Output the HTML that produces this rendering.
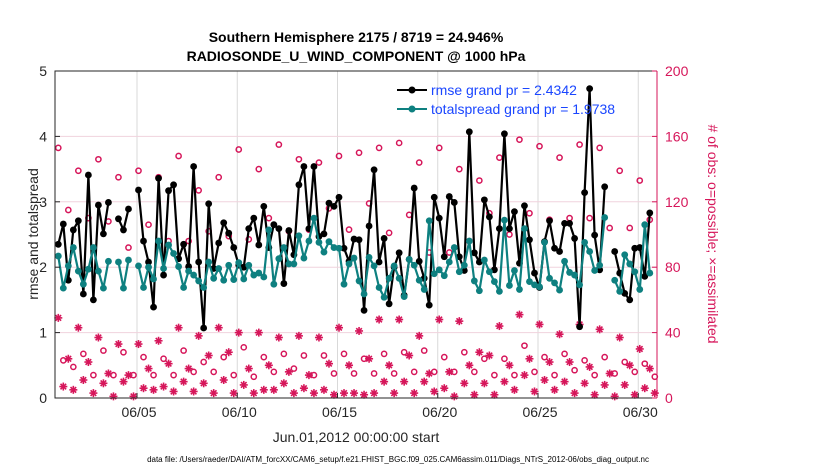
<!DOCTYPE html>
<html><head><meta charset="utf-8">
<style>
html,body{margin:0;padding:0;background:#fff;}
svg{display:block;font-family:"Liberation Sans",Arial,sans-serif;}
</style></head>
<body>
<svg id="chart" width="830" height="470" viewBox="0 0 830 470">
  <rect x="0" y="0" width="830" height="470" fill="#fff"/>
  <text x="356" y="42" text-anchor="middle" font-size="14" font-weight="bold">Southern Hemisphere 2175 / 8719 = 24.946%</text>
  <text x="356" y="61" text-anchor="middle" font-size="14" font-weight="bold">RADIOSONDE_U_WIND_COMPONENT @ 1000 hPa</text>
  <g id="grid"></g>
  <g id="obs"></g>
  <g id="lines"></g>
  <g id="axes"></g>
  <g>
    <line x1="397" y1="90" x2="427" y2="90" stroke="#000" stroke-width="2"/>
    <circle cx="412" cy="90" r="3.5" fill="#000"/>
    <text x="431" y="95" font-size="14" fill="#1a46ff">rmse grand pr = 2.4342</text>
    <line x1="397" y1="109" x2="427" y2="109" stroke="#0e8080" stroke-width="2"/>
    <circle cx="412" cy="109" r="3.5" fill="#0e8080"/>
    <text x="431" y="114" font-size="14" fill="#1a46ff">totalspread grand pr = 1.9738</text>
  </g>
  <text transform="translate(38,234) rotate(-90)" text-anchor="middle" font-size="14" fill="#262626">rmse and totalspread</text>
  <text transform="translate(708,234) rotate(90)" text-anchor="middle" font-size="14" fill="#d6165a"># of obs: o=possible; ×=assimilated</text>
  <text x="356" y="442" text-anchor="middle" font-size="14" fill="#262626">Jun.01,2012 00:00:00 start</text>
  <text x="398" y="462" text-anchor="middle" font-size="8" fill="#000">data file: /Users/raeder/DAI/ATM_forcXX/CAM6_setup/f.e21.FHIST_BGC.f09_025.CAM6assim.011/Diags_NTrS_2012-06/obs_diag_output.nc</text>
</svg>
<script>
const rmse=[2.35,2.66,1.80,2.57,2.71,1.59,3.41,1.50,2.95,2.51,2.99,null,2.74,2.57,2.89,null,3.18,2.40,2.08,1.39,3.36,1.88,3.17,3.26,2.13,2.35,2.01,3.54,2.08,1.07,2.97,1.98,2.37,2.68,2.52,2.30,2.03,2.00,2.59,2.75,2.34,2.93,2.30,2.65,2.59,1.75,2.56,2.19,3.26,3.54,2.59,3.54,2.47,2.51,2.98,2.93,3.07,2.29,2.09,2.43,2.42,1.34,2.63,3.49,2.08,2.44,1.44,2.00,2.22,1.57,2.12,3.21,2.09,1.83,1.42,3.07,2.75,2.16,3.08,2.99,2.16,1.95,4.07,2.22,2.08,3.03,2.77,1.96,2.59,4.04,2.59,2.85,2.06,2.94,2.42,1.91,1.69,2.39,2.71,2.29,2.24,2.67,2.67,2.44,1.09,3.14,4.73,2.49,1.96,3.23,null,2.24,1.91,1.60,1.50,2.29,2.30,1.86,2.83,null];
const spread=[2.17,1.68,2.02,2.30,1.94,1.74,1.97,2.30,1.94,1.68,2.09,null,2.08,1.68,2.11,null,2.02,1.69,2.00,1.82,2.40,1.98,2.34,2.21,2.01,1.69,1.94,1.88,1.79,1.69,2.08,1.83,1.98,1.80,2.03,1.81,2.07,1.82,2.03,1.88,1.91,1.85,2.57,1.74,2.13,2.30,2.05,2.05,2.48,2.14,2.40,2.75,2.38,2.23,2.39,2.30,2.29,1.74,2.05,2.14,1.79,1.59,2.15,2.02,1.69,1.54,1.83,2.02,1.83,1.55,2.12,2.03,1.80,1.66,2.71,1.90,1.96,1.87,2.08,2.30,1.93,2.03,2.40,1.79,1.64,2.11,1.93,1.78,1.63,2.72,1.72,1.95,1.66,2.59,1.78,1.73,1.70,2.38,1.83,1.76,1.65,2.09,1.92,1.88,1.73,2.38,2.24,1.95,2.03,2.76,null,1.80,1.63,2.19,2.05,1.93,1.66,2.65,1.91,null];
const possible=[153,23,115,19,139,27,110,14,146,29,108,14,135,28,92,14,139,25,106,14,135,24,96,14,148,29,96,16,127,22,102,16,135,25,99,14,152,31,97,13,140,25,110,16,155,27,102,18,146,26,103,14,144,26,116,15,148,27,103,15,150,24,119,15,153,27,101,15,156,28,112,16,144,29,89,16,153,25,89,16,140,28,96,16,133,24,113,14,147,24,100,14,158,32,113,16,154,25,109,14,147,27,110,17,155,23,110,14,153,25,104,15,139,22,104,16,133,21,109,13];
const assimilated=[49,7,24,5,43,11,22,3,37,9,15,1,33,10,14,1,33,6,18,5,35,7,21,4,43,10,18,4,38,9,26,3,43,11,28,3,40,8,18,3,40,5,20,5,37,9,16,3,38,6,14,3,37,5,21,2,43,3,20,3,41,2,24,3,48,10,20,3,48,10,26,3,38,10,15,4,48,6,16,1,47,9,20,2,28,9,26,2,44,10,20,5,51,14,24,4,45,11,22,5,39,10,22,3,45,9,19,2,42,8,15,1,37,8,20,2,30,6,18,3];
const leftTicks=[0,1,2,3,4,5];
const rightTicks=[0,40,80,120,160,200];
const xTickDays=[4,9,14,19,24,29];
const xTickLabels=["06/05","06/10","06/15","06/20","06/25","06/30"];

const NS="http://www.w3.org/2000/svg";
const L=55,R=657,T=71,B=398;
const X0=56.8,PXDAY=20.05;
function xDay(d){return X0+d*PXDAY;}
function xIdx(i){return xDay(0.075+i*0.25);}
function yL(v){return B-(v/5)*(B-T);}
function yR(v){return B-(v/200)*(B-T);}
function mk(tag,attrs,parent){const e=document.createElementNS(NS,tag);for(const k in attrs)e.setAttribute(k,attrs[k]);parent.appendChild(e);return e;}

const grid=document.getElementById('grid');
xTickDays.forEach((d)=>{
  const g=mk('line',{x1:xDay(d),x2:xDay(d),y1:T,y2:B,stroke:'#d9d9d9','stroke-width':1},grid);
  
  
});
rightTicks.forEach((v)=>{
  if(v===0||v===200)return;
  const g=mk('line',{x1:L,x2:R,y1:yR(v),y2:yR(v),stroke:'#f0d3dd','stroke-width':1},grid);
  
  
});

const obs=document.getElementById('obs');
const OBC='#d6165a';
possible.forEach((v,i)=>{
  const c=mk('circle',{cx:xIdx(i),cy:yR(v),r:2.6,fill:'none',stroke:OBC,'stroke-width':1.5},obs);
  
  
});
assimilated.forEach((v,i)=>{
  const cx=xIdx(i),cy=yR(v),s=4;
  const g=mk('g',{stroke:OBC,'stroke-width':1.6},obs);
  
  
  mk('line',{x1:cx-s,y1:cy,x2:cx+s,y2:cy},g);
  mk('line',{x1:cx,y1:cy-s,x2:cx,y2:cy+s},g);
  mk('line',{x1:cx-s*0.7,y1:cy-s*0.7,x2:cx+s*0.7,y2:cy+s*0.7},g);
  mk('line',{x1:cx-s*0.7,y1:cy+s*0.7,x2:cx+s*0.7,y2:cy-s*0.7},g);
});

const lines=document.getElementById('lines');
function drawSeries(arr,color,name){
  let d='',pen=false;
  arr.forEach((v,i)=>{
    if(v===null){pen=false;return;}
    d+=(pen?'L':'M')+xIdx(i).toFixed(1)+' '+yL(v).toFixed(1)+' ';pen=true;
  });
  const p=mk('path',{d:d,fill:'none',stroke:color,'stroke-width':2.2,'stroke-linejoin':'round'},lines);
  
  
  arr.forEach((v,i)=>{
    if(v===null)return;
    const c=mk('circle',{cx:xIdx(i),cy:yL(v),r:3.4,fill:color},lines);
    
    
  });
}
drawSeries(rmse,'#000000','rmse');
drawSeries(spread,'#0e8080','totalspread');

const axes=document.getElementById('axes');
const lf=mk('path',{d:`M${R} ${T} L${L} ${T} L${L} ${B} L${R} ${B}`,fill:'none',stroke:'#262626','stroke-width':1},axes);


const ra=mk('line',{x1:R,x2:R,y1:T,y2:B,stroke:OBC,'stroke-width':1},axes);


leftTicks.forEach((v)=>{
  const y=yL(v);
  const t=mk('line',{x1:L,x2:L+5,y1:y,y2:y,stroke:'#262626'},axes);
  
  
  const tx=mk('text',{x:L-8,y:y+5,'text-anchor':'end','font-size':14,fill:'#262626'},axes);
  tx.textContent=v;
  
  
});
rightTicks.forEach((v)=>{
  const y=yR(v);
  const t=mk('line',{x1:R-5,x2:R,y1:y,y2:y,stroke:OBC},axes);
  
  
  const tx=mk('text',{x:R+8,y:y+5,'text-anchor':'start','font-size':14,fill:OBC},axes);
  tx.textContent=v;
  
  
});
xTickDays.forEach((d,k)=>{
  const x=xDay(d);
  const t=mk('line',{x1:x,x2:x,y1:B,y2:B-5,stroke:'#262626'},axes);
  
  
  const tx=mk('text',{x:x+2,y:B+19,'text-anchor':'middle','font-size':14,fill:'#262626'},axes);
  tx.textContent=xTickLabels[k];
  
  
});
</script>
</body></html>
